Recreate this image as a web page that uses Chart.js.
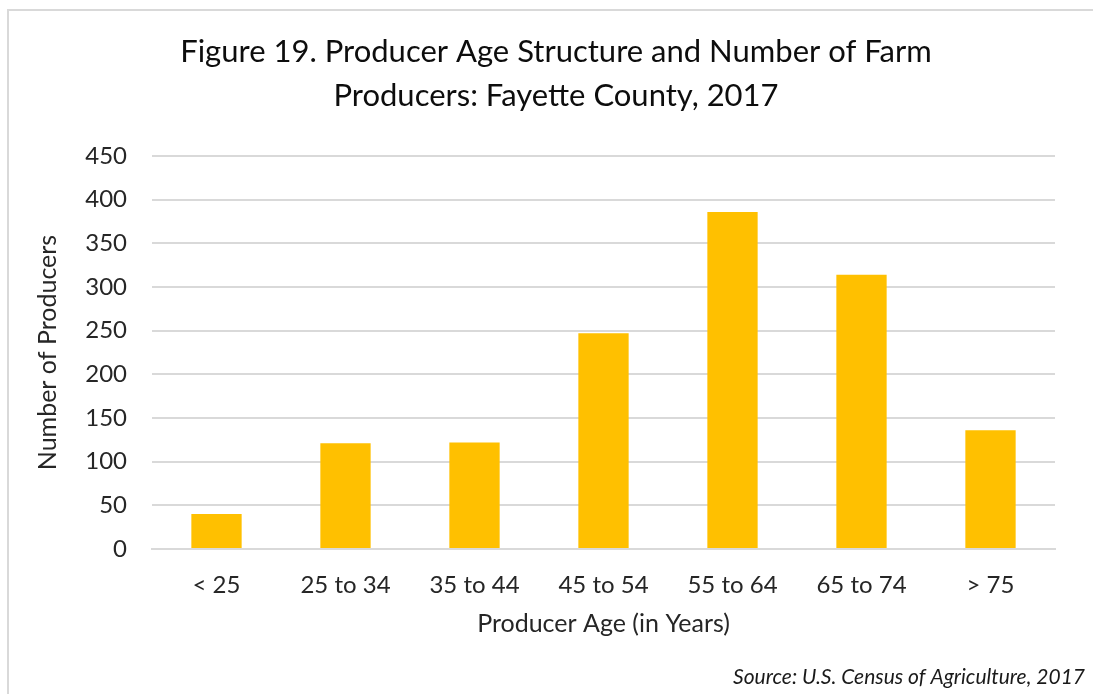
<!DOCTYPE html>
<html>
<head>
<meta charset="utf-8">
<script src="https://cdn.jsdelivr.net/npm/chart.js@4.4.0/dist/chart.umd.min.js"></script>
<style>
  html, body { margin: 0; padding: 0; background: #fff; }
  #wrap { position: relative; width: 1093px; height: 694px; }
  canvas { display: block; }
</style>
</head>
<body>
<div id="wrap"><canvas id="c" width="1093" height="694"></canvas></div>
<script>
const categories = ['< 25', '25 to 34', '35 to 44', '45 to 54', '55 to 64', '65 to 74', '> 75'];
const producers = [40, 121, 122, 247, 386, 314, 136];
const titleLines = ['Figure 19. Producer Age Structure and Number of Farm', 'Producers: Fayette County, 2017'];
const yAxisTitle = 'Number of Producers';
const xAxisTitle = 'Producer Age (in Years)';
const sourceText = 'Source: U.S. Census of Agriculture, 2017';

const FONT = 'Lato, "Open Sans", sans-serif';
const PAD_LEFT = 57;

const frameAndSource = {
  id: 'frameAndSource',
  beforeDraw(chart) {
    const ctx = chart.ctx;
    ctx.save();
    ctx.strokeStyle = '#d9d9d9';
    ctx.lineWidth = 2;
    ctx.beginPath();
    ctx.moveTo(8, 694);
    ctx.lineTo(8, 10);
    ctx.lineTo(1093, 10);
    ctx.stroke();
    ctx.restore();
  },
  afterDraw(chart) {
    const ctx = chart.ctx;
    ctx.save();
    ctx.font = 'italic 21px ' + FONT;
    ctx.fillStyle = '#1a1a1a';
    ctx.textAlign = 'right';
    ctx.textBaseline = 'middle';
    ctx.fillText(sourceText, 1085, 677);
    ctx.restore();
  }
};

new Chart(document.getElementById('c'), {
  type: 'bar',
  data: {
    labels: categories,
    datasets: [{
      data: producers,
      backgroundColor: '#FFC000',
      borderWidth: 0,
      categoryPercentage: 1,
      barPercentage: 0.39
    }]
  },
  options: {
    responsive: false,
    animation: false,
    layout: { padding: { left: PAD_LEFT, right: 38, top: 0, bottom: 45 } },
    plugins: {
      legend: { display: false },
      tooltip: { enabled: false },
      title: {
        display: true,
        text: titleLines,
        color: '#0d0d0d',
        font: { family: FONT, size: 31, weight: 'normal', lineHeight: 1.42 },
        padding: { top: 30, bottom: 38 }
      }
    },
    scales: {
      x: {
        grid: { display: false, drawTicks: false },
        border: { display: true, color: '#d9d9d9', width: 2 },
        ticks: { color: '#262626', font: { family: FONT, size: 24, lineHeight: 1.2 }, padding: 22, maxRotation: 0 },
        title: {
          display: true, text: xAxisTitle, color: '#262626',
          font: { family: FONT, size: 25, lineHeight: 1.2 },
          padding: { top: 0, bottom: 10 }
        },
        afterFit(scale) { scale.height = 100; }
      },
      y: {
        min: 0, max: 450,
        ticks: { stepSize: 50, color: '#262626', font: { family: FONT, size: 24 }, padding: 25 },
        grid: { color: '#d9d9d9', lineWidth: 2, drawTicks: false },
        border: { display: false },
        title: {
          display: true, text: yAxisTitle, color: '#262626',
          font: { family: FONT, size: 25, lineHeight: 1.2 },
          padding: { top: 33 - PAD_LEFT, bottom: 0 }
        },
        afterFit(scale) { scale.width = 152 - PAD_LEFT; }
      }
    }
  },
  plugins: [frameAndSource]
});
</script>
</body>
</html>
